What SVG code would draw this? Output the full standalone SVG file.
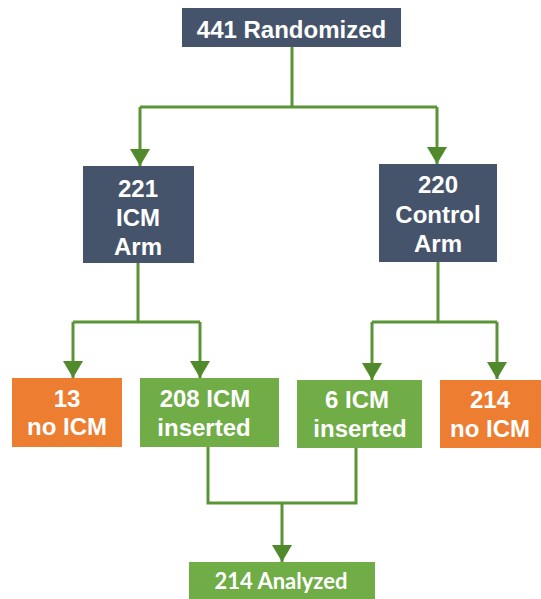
<svg xmlns="http://www.w3.org/2000/svg" width="541" height="599" viewBox="0 0 541 599">
<defs>
<style>
.navy{fill:#46546b}
.green{fill:#70ad47}
.orange{fill:#ed7d31}
.t{font-family:"Liberation Sans",Arial,sans-serif;font-weight:bold;font-size:24px;fill:#ffffff;text-anchor:middle}
.t2{font-family:Lato,"Liberation Sans",sans-serif;font-weight:bold;font-size:22px;fill:#ffffff;text-anchor:middle}
.ln{fill:none;stroke:#5b9436;stroke-width:3;stroke-linejoin:miter}
</style>
<marker id="ah" viewBox="0 0 17 20" refX="17" refY="10" markerWidth="17" markerHeight="20" markerUnits="userSpaceOnUse" orient="auto">
<path d="M0,0 L17,10 L0,20 Z" fill="#518a2c"/>
</marker>
</defs>
<rect width="541" height="599" fill="#ffffff"/>
<g id="connectors">
<path class="ln" d="M292,47 V107"/>
<path class="ln" d="M140,107 H437"/>
<path class="ln" d="M140,107 V166" marker-end="url(#ah)"/>
<path class="ln" d="M437,107 V164" marker-end="url(#ah)"/>
<path class="ln" d="M138,263 V322"/>
<path class="ln" d="M73,322 H200"/>
<path class="ln" d="M73,322 V378" marker-end="url(#ah)"/>
<path class="ln" d="M200,322 V378" marker-end="url(#ah)"/>
<path class="ln" d="M438,262 V322"/>
<path class="ln" d="M372,322 H497"/>
<path class="ln" d="M372,322 V380" marker-end="url(#ah)"/>
<path class="ln" d="M497,322 V379" marker-end="url(#ah)"/>
<path class="ln" d="M208,447 V503 H356 V448"/>
<path class="ln" d="M282,503 V562" marker-end="url(#ah)"/>
</g>
<g id="randomized">
<rect class="navy" x="182" y="8" width="219" height="39"/>
<text class="t" x="291.5" y="38">441 Randomized</text>
</g>
<g id="icm-arm">
<rect class="navy" x="83" y="166" width="111" height="97"/>
<text class="t" x="138" y="197">221</text>
<text class="t" x="138" y="226">ICM</text>
<text class="t" x="138" y="255">Arm</text>
</g>
<g id="control-arm">
<rect class="navy" x="379" y="164" width="118" height="98"/>
<text class="t" x="438" y="193">220</text>
<text class="t" x="438" y="223">Control</text>
<text class="t" x="438" y="252">Arm</text>
</g>
<g id="no-icm-13">
<rect class="orange" x="12" y="378" width="110" height="69"/>
<text class="t" x="67" y="407">13</text>
<text class="t" x="67" y="435">no ICM</text>
</g>
<g id="icm-208">
<rect class="green" x="140" y="378" width="139" height="69"/>
<text class="t" x="205" y="407">208 ICM</text>
<text class="t" x="204" y="436">inserted</text>
</g>
<g id="icm-6">
<rect class="green" x="297" y="380" width="125" height="68"/>
<text class="t" x="357" y="408">6 ICM</text>
<text class="t" x="360" y="437">inserted</text>
</g>
<g id="no-icm-214">
<rect class="orange" x="440" y="380" width="101" height="68"/>
<text class="t" x="490" y="408">214</text>
<text class="t" x="490" y="437">no ICM</text>
</g>
<g id="analyzed">
<rect class="green" x="189" y="562" width="186" height="37"/>
<text class="t2" x="281" y="589">214 Analyzed</text>
</g>
</svg>
